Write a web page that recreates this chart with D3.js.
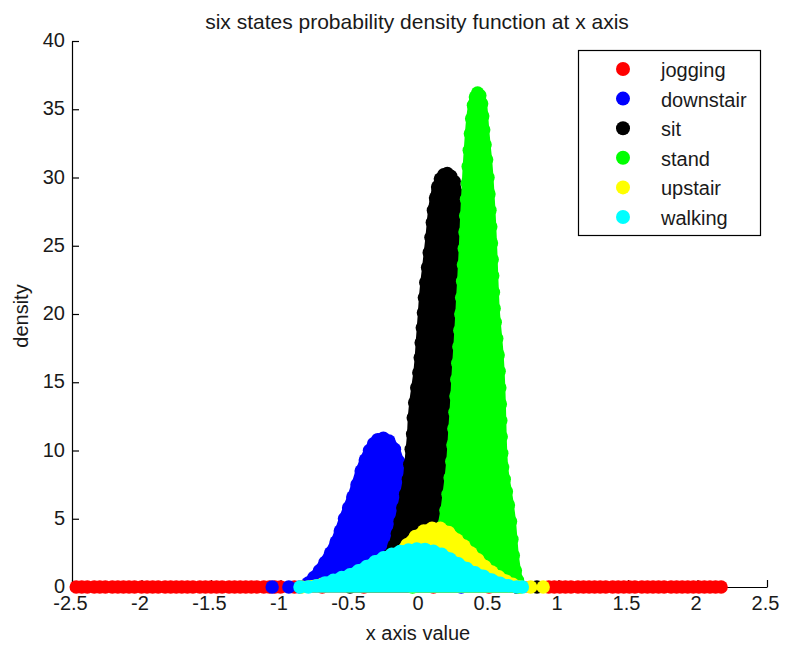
<!DOCTYPE html>
<html>
<head>
<meta charset="utf-8">
<script src="https://cdn.jsdelivr.net/npm/d3@7"></script>
<style>
  html, body { margin: 0; padding: 0; background: #ffffff; }
  svg { display: block; }
  text { font-family: Arial, "Liberation Sans", Helvetica, sans-serif; fill: #1a1a1a; }
</style>
</head>
<body>
<svg id="chart" width="786" height="649"></svg>
<script>
// Activity classes, plotted in this order (later classes sit on top)
const categories = ["jogging", "downstair", "sit", "stand", "upstair", "walking"];
const seriesColors = ["#ff0000", "#0000ff", "#000000", "#00ff00", "#ffff00", "#00ffff"];

// Axis ticks
const xTicks = [-2.5, -2, -1.5, -1, -0.5, 0, 0.5, 1, 1.5, 2, 2.5];
const yTicks = [0, 5, 10, 15, 20, 25, 30, 35, 40];

// Each class: [x axis value, density] for the marker centres along the outline of the cloud
const jogging = [
  [-2.47, 0], [-2.43, 0], [-2.39, 0], [-2.34, 0], [-2.3, 0], [-2.26, 0], [-2.21, 0], [-2.17, 0],
  [-2.13, 0], [-2.09, 0], [-2.05, 0], [-2.0, 0], [-1.96, 0], [-1.92, 0], [-1.88, 0], [-1.83, 0],
  [-1.79, 0], [-1.75, 0], [-1.71, 0], [-1.67, 0], [-1.63, 0], [-1.58, 0], [-1.54, 0], [-1.5, 0],
  [-1.46, 0], [-1.42, 0], [-1.37, 0], [-1.33, 0], [-1.29, 0], [-1.25, 0], [-1.21, 0], [-1.17, 0],
  [-1.12, 0], [-1.08, 0], [-1.04, 0], [-1.0, 0], [-0.9, 0], [-0.7, 0], [-0.4, 0], [0.1, 0],
  [0.5, 0], [0.7, 0], [0.93, 0], [0.97, 0], [1.01, 0], [1.05, 0], [1.09, 0], [1.14, 0],
  [1.18, 0], [1.22, 0], [1.26, 0], [1.3, 0], [1.34, 0], [1.39, 0], [1.43, 0], [1.47, 0],
  [1.51, 0], [1.55, 0], [1.6, 0], [1.64, 0], [1.68, 0], [1.72, 0], [1.76, 0], [1.81, 0],
  [1.85, 0], [1.89, 0], [1.93, 0], [1.97, 0], [2.01, 0], [2.05, 0], [2.09, 0], [2.13, 0], [2.17, 0]
];

const downstair = [
  [-0.86, 0], [-0.8, 0.3], [-0.76, 0.7], [-0.72, 1.2], [-0.68, 1.8],
  [-0.64, 2.5], [-0.6, 3.3], [-0.57, 4.1], [-0.54, 5.0], [-0.51, 5.8], [-0.48, 6.6], [-0.45, 7.5],
  [-0.42, 8.5], [-0.39, 9.3], [-0.36, 10.0], [-0.33, 10.5], [-0.3, 10.8], [-0.26, 10.9],
  [-0.22, 10.7], [-0.18, 10.1], [-0.15, 9.2], [-0.12, 8.2], [-0.08, 6.8], [-0.04, 5.3],
  [0.0, 3.8], [0.05, 2.2], [0.1, 1.1], [0.2, 0.3], [0.3, 0]
];
const downstairOutliers = [[-1.06, 0], [-0.94, 0]];

const sit = [
  [-0.5, 0], [-0.4, 0.3], [-0.33, 0.8], [-0.27, 1.5], [-0.22, 2.3], [-0.185, 3.0], [-0.16, 3.9],
  [-0.14, 4.8], [-0.12, 5.8], [-0.1, 6.8], [-0.08, 7.9], [-0.07, 9.0], [-0.06, 10.1], [-0.05, 11.2],
  [-0.045, 12.4], [-0.035, 13.5], [-0.02, 14.6], [-0.005, 15.7], [0.005, 16.8], [0.012, 17.9],
  [0.02, 19.0], [0.028, 20.1], [0.035, 21.2], [0.045, 22.3], [0.058, 23.4], [0.07, 24.5],
  [0.082, 25.6], [0.092, 26.7], [0.1, 27.6], [0.115, 28.5], [0.13, 29.3], [0.15, 29.9],
  [0.175, 30.2], [0.2, 30.3], [0.225, 30.1], [0.25, 29.7], [0.27, 28.8], [0.29, 27.0],
  [0.31, 24.0], [0.33, 20.0], [0.35, 15.0], [0.37, 11.0], [0.4, 7.0], [0.45, 3.5], [0.5, 1.5],
  [0.55, 0.6], [0.62, 0.2], [0.7, 0]
];
const sitOutliers = [[0.845, 0]];

const stand = [
  [-0.05, 0], [0.0, 0.4], [0.05, 1.1], [0.1, 2.2], [0.14, 3.4], [0.17, 4.5], [0.19, 5.6],
  [0.205, 6.8], [0.22, 8.0], [0.232, 9.2], [0.24, 10.4], [0.247, 11.6], [0.255, 12.8],
  [0.262, 14.0], [0.268, 15.2], [0.275, 16.4], [0.283, 17.6], [0.29, 18.8], [0.297, 20.0],
  [0.303, 21.2], [0.31, 22.4], [0.316, 23.6], [0.322, 24.8], [0.327, 26.0], [0.332, 27.2],
  [0.338, 28.4], [0.344, 29.6], [0.35, 30.8], [0.358, 32.0], [0.366, 33.2], [0.375, 34.3],
  [0.388, 35.3], [0.402, 35.9], [0.418, 36.2], [0.434, 36.0], [0.447, 35.4], [0.455, 34.5],
  [0.462, 33.5], [0.472, 32.4], [0.483, 31.3], [0.493, 30.0], [0.5, 28.8], [0.507, 27.6],
  [0.513, 26.4], [0.518, 25.2], [0.523, 24.0], [0.527, 22.8], [0.532, 21.6], [0.537, 20.4],
  [0.545, 19.4], [0.556, 18.2], [0.566, 17.0], [0.573, 15.8], [0.578, 14.6], [0.582, 13.4],
  [0.585, 12.2], [0.588, 11.0], [0.592, 9.8], [0.598, 8.8], [0.61, 7.9], [0.625, 7.0],
  [0.64, 6.0], [0.655, 4.8], [0.665, 3.5], [0.675, 2.3], [0.69, 1.2], [0.705, 0.5], [0.72, 0]
];

const upstair = [
  [-0.85, 0], [-0.7, 0.2], [-0.55, 0.5], [-0.4, 1.0], [-0.3, 1.5], [-0.22, 2.0], [-0.15, 2.5],
  [-0.09, 3.1], [-0.03, 3.7], [0.03, 4.1], [0.09, 4.3], [0.15, 4.3], [0.21, 4.0], [0.27, 3.45],
  [0.32, 3.0], [0.37, 2.5], [0.42, 2.0], [0.47, 1.5], [0.52, 1.1], [0.57, 0.75], [0.62, 0.45],
  [0.67, 0.2], [0.72, 0]
];
const upstairOutliers = [[0.8, 0], [0.89, 0]];

const walking = [
  [-0.86, 0], [-0.8, 0], [-0.74, 0.1], [-0.68, 0.3], [-0.62, 0.5], [-0.56, 0.7], [-0.5, 0.9],
  [-0.44, 1.2], [-0.38, 1.5], [-0.32, 1.85], [-0.26, 2.15], [-0.2, 2.4], [-0.14, 2.6],
  [-0.08, 2.72], [-0.02, 2.78], [0.04, 2.76], [0.1, 2.62], [0.16, 2.4], [0.22, 2.05],
  [0.28, 1.7], [0.34, 1.35], [0.4, 1.05], [0.46, 0.8], [0.52, 0.52], [0.58, 0.28],
  [0.64, 0.1], [0.7, 0], [0.74, 0]
];

const seriesData = [jogging, downstair, sit, stand, upstair, walking];
const seriesOutliers = [[], downstairOutliers, sitOutliers, [], upstairOutliers, []];

// ---- layout ----
const svg = d3.select("#chart");
const W = 786, H = 649;
const plot = { left: 72, right: 767, top: 41, bottom: 587 };
const markerR = 6.7;
const cloudEdge = 11;   // width of the rounded rim around each filled cloud

svg.append("rect").attr("width", W).attr("height", H).attr("fill", "#ffffff");

const x = d3.scaleLinear().domain([-2.5, 2.5]).range([plot.left, plot.right]);
const y = d3.scaleLinear().domain([0, 40]).range([plot.bottom, plot.top]);

// Axes with inward ticks
const fmt = d => String(d);
const xAxis = svg.append("g")
  .attr("transform", `translate(0,${plot.bottom})`)
  .call(d3.axisBottom(x).tickValues(xTicks).tickFormat(fmt)
    .tickSizeInner(-7).tickSizeOuter(0).tickPadding(9));
const yAxis = svg.append("g")
  .attr("transform", `translate(${plot.left},0)`)
  .call(d3.axisLeft(y).tickValues(yTicks).tickFormat(fmt)
    .tickSizeInner(-7).tickSizeOuter(0).tickPadding(7));

[xAxis, yAxis].forEach(g => {
  g.selectAll("path.domain").attr("stroke", "#000").attr("stroke-width", 1.2);
  g.selectAll(".tick line").attr("stroke", "#000").attr("stroke-width", 1.2);
  g.selectAll(".tick text").attr("font-size", 20).attr("fill", "#1a1a1a")
    .style("font-family", "Arial, 'Liberation Sans', sans-serif");
});
xAxis.selectAll(".tick text").attr("dx", -2);
yAxis.selectAll(".tick text").attr("dy", "0.28em");

// Density clouds: filled region under the outline, a rounded rim, and markers along it
const area = d3.area()
  .x(d => x(d[0]))
  .y0(y(0))
  .y1(d => y(d[1]))
  .curve(d3.curveLinear);

const layers = svg.append("g");
seriesData.forEach((pts, i) => {
  const g = layers.append("g").attr("class", "series-" + categories[i]);
  g.append("path")
    .datum(pts)
    .attr("d", area)
    .attr("fill", seriesColors[i])
    .attr("stroke", seriesColors[i])
    .attr("stroke-width", cloudEdge)
    .attr("stroke-linejoin", "round")
    .attr("stroke-linecap", "round");
  g.selectAll("circle.pt")
    .data(pts.concat(seriesOutliers[i]))
    .join("circle")
    .attr("class", "pt")
    .attr("cx", d => x(d[0]))
    .attr("cy", d => y(d[1]))
    .attr("r", markerR)
    .attr("fill", seriesColors[i]);
});

// Title and axis labels
svg.append("text")
  .attr("x", 417).attr("y", 29)
  .attr("text-anchor", "middle")
  .attr("font-size", 21)
  .text("six states probability density function at x axis");

svg.append("text")
  .attr("x", 418).attr("y", 640)
  .attr("text-anchor", "middle")
  .attr("font-size", 20)
  .text("x axis value");

svg.append("text")
  .attr("transform", "translate(28,316) rotate(-90)")
  .attr("text-anchor", "middle")
  .attr("font-size", 20)
  .text("density");

// Legend
const legend = svg.append("g");
legend.append("rect")
  .attr("x", 578.5).attr("y", 50.5)
  .attr("width", 182).attr("height", 185)
  .attr("fill", "#ffffff")
  .attr("stroke", "#000")
  .attr("stroke-width", 1.2);

const rowY = d3.scalePoint().domain(categories).range([69, 217]);
const rows = legend.selectAll("g.row")
  .data(categories)
  .join("g")
  .attr("class", "row")
  .attr("transform", d => `translate(0,${rowY(d)})`);
rows.append("circle")
  .attr("cx", 623).attr("cy", 0)
  .attr("r", 7)
  .attr("fill", (d, i) => seriesColors[i]);
rows.append("text")
  .attr("x", 661).attr("y", 8)
  .attr("font-size", 20)
  .text(d => d);
</script>
</body>
</html>
